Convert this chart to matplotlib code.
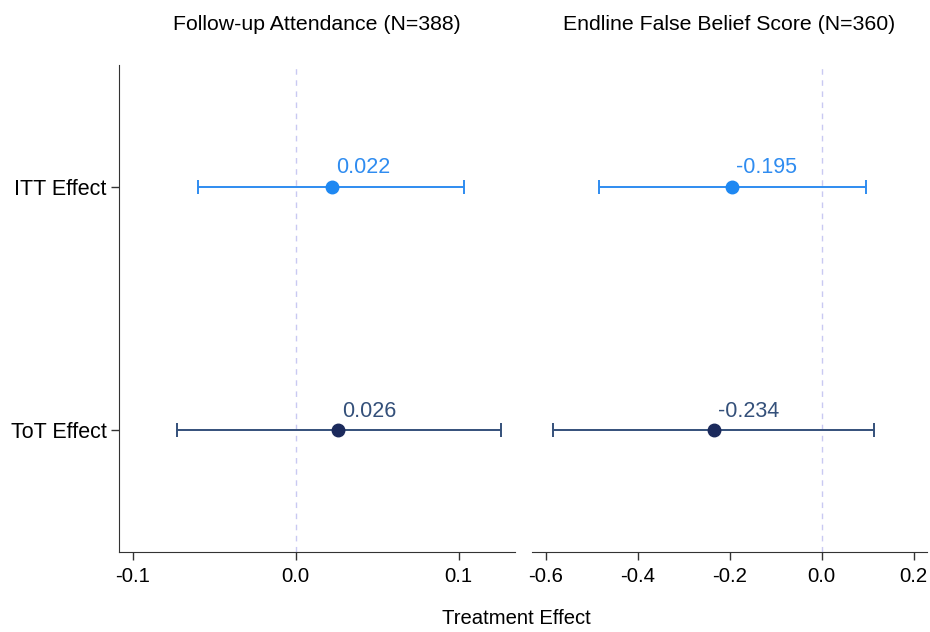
import matplotlib
matplotlib.use("Agg")
import matplotlib.pyplot as plt

plt.rcParams["font.family"] = ["Liberation Sans", "DejaVu Sans"]

# ── data ──────────────────────────────────────────────────────────────
effects = ["ToT Effect", "ITT Effect"]          # bottom -> top
panels = ["Follow-up Attendance (N=388)", "Endline False Belief Score (N=360)"]

att_est = [0.026, 0.022]
att_lo = [-0.073, -0.060]
att_hi = [0.126, 0.103]

fb_est = [-0.234, -0.195]
fb_lo = [-0.584, -0.485]
fb_hi = [0.114, 0.096]

att_ticks = [-0.1, 0.0, 0.1]
fb_ticks = [-0.6, -0.4, -0.2, 0.0, 0.2]

MARKER_COLORS = ["#1b2a5c", "#1e88f2"]
LINE_COLORS = ["#34507a", "#2f8cf0"]

fig = plt.figure(figsize=(9.3, 6.32), dpi=100)
ax1 = fig.add_axes([0.128, 0.1266, 0.4258, 0.7706])
ax2 = fig.add_axes([0.572, 0.1266, 0.4247, 0.7706])


def draw(ax, est, lo, hi, ticks, xlim, title):
    ax.axvline(0, color="#c9c9f2", ls=(0, (4, 4)), lw=1.0, zorder=1)
    for i in range(len(effects)):
        ax.errorbar(est[i], i, xerr=[[est[i] - lo[i]], [hi[i] - est[i]]],
                    fmt="none", ecolor=LINE_COLORS[i], elinewidth=1.4,
                    capsize=5, capthick=1.4, zorder=2)
        ax.plot(est[i], i, "o", color=MARKER_COLORS[i], ms=9, zorder=3)
        ax.annotate(f"{est[i]:.3f}", (est[i], i), xytext=(3, 6),
                    textcoords="offset points", ha="left", va="bottom",
                    fontsize=15.5, color=LINE_COLORS[i])
    ax.set_xlim(*xlim)
    ax.set_ylim(-0.5, 1.5)
    ax.set_xticks(ticks)
    ax.set_xticklabels([f"{t:.1f}" for t in ticks], fontsize=14.7)
    ax.set_title(title, fontsize=15.3, pad=25)
    for s in ["top", "right"]:
        ax.spines[s].set_visible(False)
    for s in ax.spines.values():
        s.set_color("#333333")
    ax.tick_params(axis="x", length=6, width=1, color="#333333", pad=5)
    ax.tick_params(axis="y", length=6, width=1, color="#333333", pad=3)


draw(ax1, att_est, att_lo, att_hi, att_ticks, (-0.1084, 0.1345), panels[0])
ax1.set_yticks(range(len(effects)))
ax1.set_yticklabels(effects, fontsize=15.5)

draw(ax2, fb_est, fb_lo, fb_hi, fb_ticks, (-0.63, 0.229), panels[1])
ax2.spines["left"].set_visible(False)
ax2.set_yticks([])

fig.text(0.555, 0.006, "Treatment Effect", ha="center", va="bottom", fontsize=14.6)

fig.savefig("out.png", dpi=100, facecolor="white")
